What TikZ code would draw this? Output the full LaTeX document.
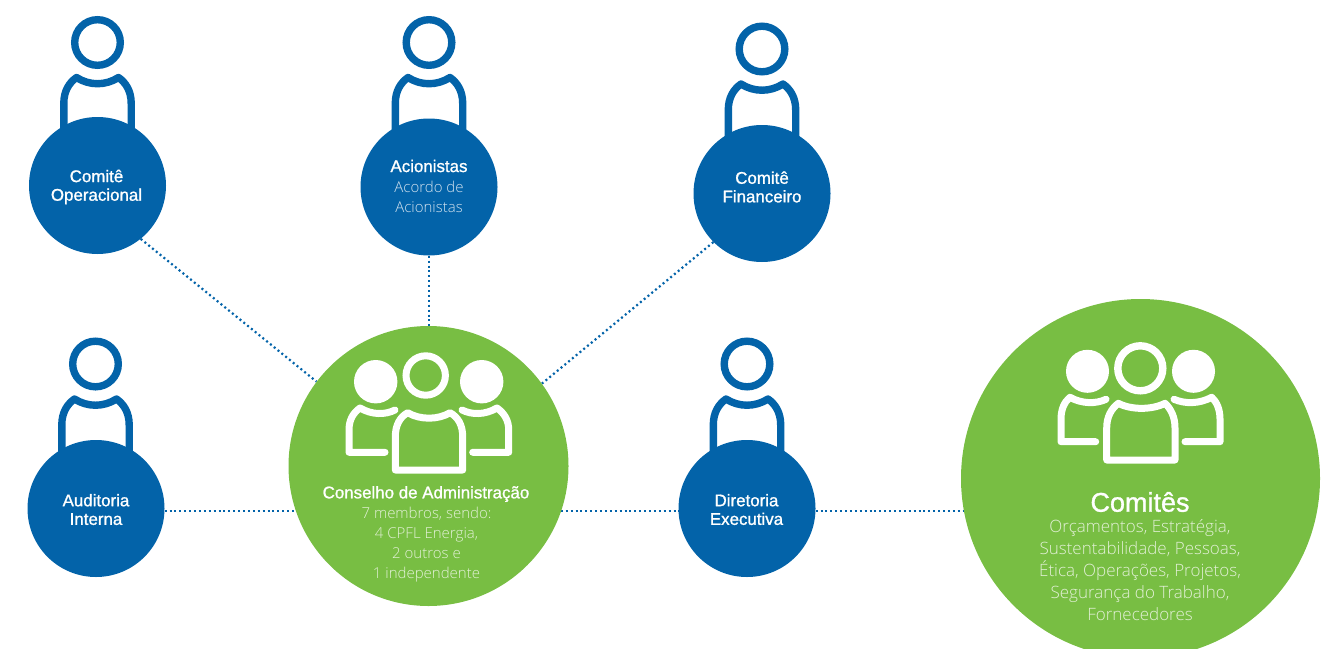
\documentclass[tikz,border=0pt]{standalone}
\usepackage{fontspec}
\setmainfont{Liberation Sans}
\newfontfamily\medf{Liberation Sans}[FakeBold=1.1]
\newfontfamily\litef{Open Sans Light}
\usetikzlibrary{backgrounds}
\definecolor{cpblue}{HTML}{0363A9}
\definecolor{cpgreen}{HTML}{78BE43}
\definecolor{lite}{HTML}{E2F0D6}
\definecolor{liteb}{HTML}{CFE0EE}
\tikzset{
  blueball/.style={circle,fill=cpblue,draw=none,minimum size=137pt,inner sep=0pt},
  greenball/.style={circle,fill=cpgreen,draw=none,inner sep=0pt},
  link/.style={draw=cpblue,line width=2.2pt,dash pattern=on 2pt off 2.9pt},
  lab/.style={text=white,align=center,inner sep=0pt,font=\medf\fontsize{16.9}{18.6}\selectfont},
  sub/.style={align=center,inner sep=0pt,font=\litef\fontsize{15}{20}\selectfont}
}
\newcommand{\personicon}[2]{%
  \begin{scope}[shift={(#1,#2)}]
    \draw[cpblue,line width=7.4pt] (0,-143) circle (22.8);
    \draw[cpblue,line width=7.4pt,line join=round]
      (-33.7,-50) -- (-33.7,-82) .. controls (-33.7,-95) and (-28,-103) .. (-21,-108)
      .. controls (-8,-99.7) and (8,-99.7) .. (21,-108)
      .. controls (28,-103) and (33.7,-95) .. (33.7,-82) -- (33.7,-50);
  \end{scope}}
\begin{document}
\begin{tikzpicture}[x=1pt,y=-1pt]
\useasboundingbox (0,0) rectangle (1329,648);
% person icons behind the circles
\personicon{97.5}{185.5}
\personicon{429}{185.5}
\personicon{762}{192}
\personicon{95.5}{507}
\personicon{747}{507}
% circles
\node[blueball] (co) at (97.5,185.5) {};
\node[blueball] (ac) at (429,187) {};
\node[blueball] (fi) at (762,193.5) {};
\node[blueball] (au) at (96,508.5) {};
\node[blueball] (di) at (747,508.5) {};
\node[greenball,minimum size=280pt] (cons) at (428.5,466) {};
\begin{scope}
  \clip (0,0) rectangle (1329,648);
  \node[greenball,minimum size=359pt] (com) at (1140.5,478.5) {};
\end{scope}
\coordinate (row) at (0,511);
% connectors
\begin{scope}[on background layer]
  \draw[link] (co.-51) -- (cons.143.5);
  \draw[link] (ac.south) -- (ac.south |- cons.north);
  \draw[link] (fi.-135) -- (cons.36.6);
  \draw[link] (au |- row) -- (cons |- row);
  \draw[link] (cons |- row) -- (di |- row);
  \draw[link] (di |- row) -- (com |- row);
\end{scope}
% labels
\node[lab] (t1) at (96.5,187) {Comitê\\Operacional};
\node[lab] (t2) at (429,166) {Acionistas};
\node[sub,text=liteb,font=\litef\fontsize{15}{20}\selectfont] (t2b) at (429,196.5) {Acordo de\\Acionistas};
\node[lab] (t3) at (762,187) {Comitê\\Financeiro};
\node[lab] (t4) at (96,509.5) {Auditoria\\Interna};
\node[lab] (t5) at (746.5,509.5) {Diretoria\\Executiva};
\node[lab] (t6) at (426,494) {Conselho de Administração};
\node[sub,text=lite] (t6b) at (426.5,544.5) {7 membros, sendo:\\4 CPFL Energia,\\2 outros e\\1 independente};
\node[lab,font=\medf\fontsize{27}{30}\selectfont] (t7) at (1140,502) {Comitês};
\node[sub,text=lite,font=\litef\fontsize{17}{21.9}\selectfont] (t7b) at (1140,570) {Orçamentos, Estratégia,\\Sustentabilidade, Pessoas,\\Ética, Operações, Projetos,\\Segurança do Trabalho,\\Fornecedores};
% group icon: Conselho
\begin{scope}[white]
  \draw[line width=7pt] (425.7,375.5) circle (19.7);
  \fill (375.7,381.7) circle (21.7);
  \fill (481.7,381.7) circle (21.7);
  \draw[line width=7pt,line join=round] (395.3,437) .. controls (395.3,425) and (400,417) .. (407.7,412.7)
    .. controls (420,420) and (438,420) .. (450,412.7) .. controls (458,417) and (462.7,425) .. (462.7,437)
    -- (462.7,470) -- (395.3,470) -- cycle;
  \draw[line width=7pt,line join=round,line cap=round] (395,410) .. controls (385,415) and (372,415) .. (360,408)
    .. controls (353,413) and (349,420) .. (349,430) -- (349,452.3) -- (385,452.3);
  \draw[line width=7pt,line join=round,line cap=round] (462,410) .. controls (472,415) and (485,415) .. (497,408)
    .. controls (504,413) and (508.7,420) .. (508.7,430) -- (508.7,452.3) -- (472.7,452.3);
  % group icon: Comites
  \draw[line width=7.4pt] (1140.3,368.3) circle (22.5);
  \fill (1087.5,371.3) circle (21.5);
  \fill (1193.5,371.3) circle (21.5);
  \draw[line width=7pt,line join=round] (1106.7,428) .. controls (1106.7,417) and (1111,409) .. (1118.3,403.3)
    .. controls (1131,410) and (1152,410) .. (1165,403.3) .. controls (1171,409) and (1175,417) .. (1175,428)
    -- (1175,460) -- (1106.7,460) -- cycle;
  \draw[line width=7pt,line join=round,line cap=round] (1106,399.3) .. controls (1096,404) and (1082,404) .. (1070,397.3)
    .. controls (1064,402) and (1061,410) .. (1061,419) -- (1061,441.7) -- (1095.7,441.7);
  \draw[line width=7pt,line join=round,line cap=round] (1174,399.3) .. controls (1185,404) and (1199,404) .. (1211.7,397.3)
    .. controls (1217,402) and (1220,410) .. (1220,419) -- (1220,441.7) -- (1185,441.7);
\end{scope}
\end{tikzpicture}
\end{document}
